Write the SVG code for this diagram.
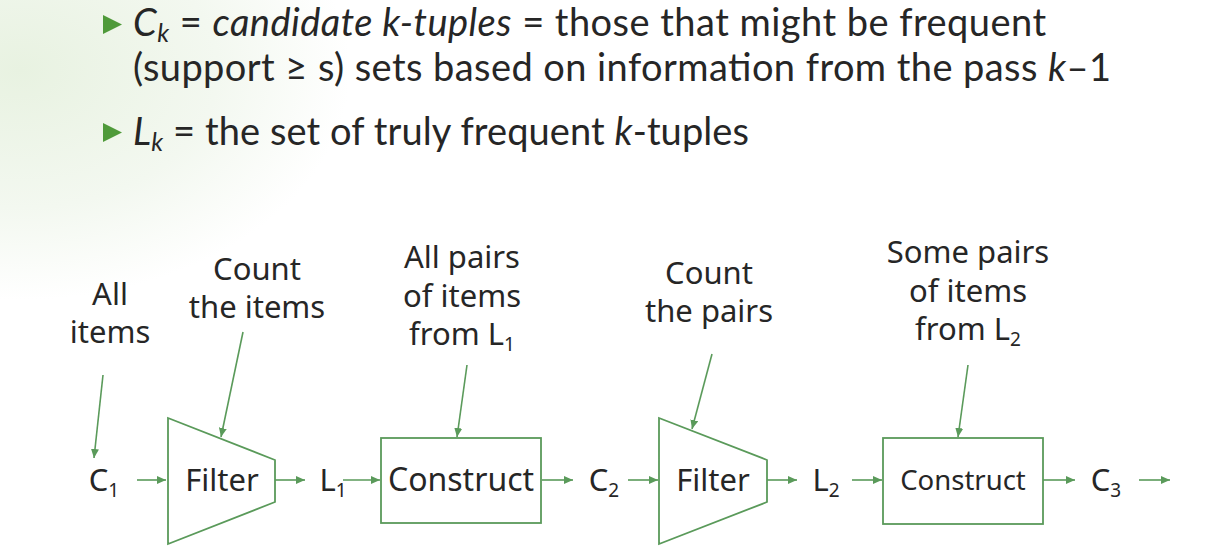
<svg xmlns="http://www.w3.org/2000/svg" width="1207" height="554" viewBox="0 0 1207 554">
<defs>
<radialGradient id="bg" cx="0" cy="0" r="1" gradientUnits="userSpaceOnUse" gradientTransform="translate(20 70) scale(330 230)">
<stop offset="0" stop-color="#e8f2e1"/>
<stop offset="0.6" stop-color="#f3f8f0"/>
<stop offset="1" stop-color="#ffffff"/>
</radialGradient>
<marker id="ah" viewBox="0 0 10 10" refX="10" refY="5" markerWidth="9" markerHeight="8" markerUnits="userSpaceOnUse" orient="auto" preserveAspectRatio="none">
<path d="M0,0 L10,5 L0,10 z" fill="#5a9a5a"/>
</marker>
<style>
.t{fill:#262626}
.top{font-family:Lato,"Liberation Sans",sans-serif;font-size:38px}
.d{font-family:"Noto Sans","Liberation Sans",sans-serif;font-size:31px;text-anchor:middle}
.lab{font-family:"Noto Sans","Liberation Sans",sans-serif;font-size:31px;text-anchor:middle}
.sub{font-size:19px}
.ksub{font-size:25px}
.i{font-style:italic}
.shape{fill:none;stroke:#5a9a5a;stroke-width:1.8}
.con line{stroke:#5a9a5a;stroke-width:1.6;marker-end:url(#ah)}
.bul{fill:#4f9a3a}
</style>
</defs>
<rect width="1207" height="554" fill="#ffffff"/>
<rect width="1207" height="554" fill="url(#bg)"/>

<g id="bullets">
<path class="bul" d="M103,15 L122,24.5 L103,34 z"/>
<path class="bul" d="M103,123 L122,132.5 L103,142 z"/>
<text class="t top" x="133" y="36" textLength="913" lengthAdjust="spacing"><tspan class="i">C</tspan><tspan class="i ksub" dy="6">k</tspan><tspan dy="-6"> = </tspan><tspan class="i">candidate k-tuples</tspan><tspan> = those that might be frequent</tspan></text>
<text class="t top" x="133" y="81" textLength="978" lengthAdjust="spacing">(support ≥ s) sets based on information from the pass <tspan class="i">k</tspan>–1</text>
<text class="t top" x="133" y="145" textLength="616" lengthAdjust="spacing"><tspan class="i">L</tspan><tspan class="i ksub" dy="6">k</tspan><tspan dy="-6"> = the set of truly frequent </tspan><tspan class="i">k</tspan>-tuples</text>
</g>

<g id="label-all-items">
<text class="t lab" x="110" y="305">All</text>
<text class="t lab" x="110" y="343">items</text>
</g>
<g id="label-count-items">
<text class="t lab" x="257" y="280">Count</text>
<text class="t lab" x="257" y="318">the items</text>
</g>
<g id="label-all-pairs">
<text class="t lab" x="462" y="268">All pairs</text>
<text class="t lab" x="462" y="307">of items</text>
<text class="t lab" x="462" y="345">from L<tspan class="sub" dy="6">1</tspan></text>
</g>
<g id="label-count-pairs">
<text class="t lab" x="709" y="284">Count</text>
<text class="t lab" x="709" y="322">the pairs</text>
</g>
<g id="label-some-pairs">
<text class="t lab" x="968" y="263">Some pairs</text>
<text class="t lab" x="968" y="302">of items</text>
<text class="t lab" x="968" y="340">from L<tspan class="sub" dy="6">2</tspan></text>
</g>

<g id="C1"><text class="t d" x="104" y="491">C<tspan class="sub" dy="6">1</tspan></text></g>
<g id="filter1">
<path class="shape" d="M168,418 L275,460 L275,502 L168,544 z"/>
<text class="t d" x="222" y="491">Filter</text>
</g>
<g id="L1"><text class="t d" x="333" y="491">L<tspan class="sub" dy="6">1</tspan></text></g>
<g id="construct1">
<rect class="shape" x="381" y="438" width="160" height="85"/>
<text class="t d" x="461" y="491" style="font-size:32px">Construct</text>
</g>
<g id="C2"><text class="t d" x="604" y="491">C<tspan class="sub" dy="6">2</tspan></text></g>
<g id="filter2">
<path class="shape" d="M659,418 L767,460 L767,502 L659,544 z"/>
<text class="t d" x="713" y="491">Filter</text>
</g>
<g id="L2"><text class="t d" x="826" y="491">L<tspan class="sub" dy="6">2</tspan></text></g>
<g id="construct2">
<rect class="shape" x="883" y="438" width="160" height="86"/>
<text class="t d" x="963" y="490" style="font-size:27.5px">Construct</text>
</g>
<g id="C3"><text class="t d" x="1106" y="491">C<tspan class="sub" dy="6">3</tspan></text></g>

<g id="connectors" class="con">
<line x1="103" y1="375" x2="94" y2="458"/>
<line x1="243" y1="332" x2="221" y2="437"/>
<line x1="467" y1="365" x2="457" y2="437"/>
<line x1="712" y1="354" x2="692" y2="429"/>
<line x1="968" y1="365" x2="958" y2="437"/>
<line x1="137" y1="480" x2="166" y2="480"/>
<line x1="275" y1="480" x2="305" y2="480"/>
<line x1="343" y1="480" x2="380" y2="480"/>
<line x1="542" y1="480" x2="573" y2="480"/>
<line x1="628" y1="480" x2="658" y2="480"/>
<line x1="767" y1="480" x2="797" y2="480"/>
<line x1="852" y1="480" x2="882" y2="480"/>
<line x1="1043" y1="480" x2="1075" y2="480"/>
<line x1="1139" y1="480" x2="1170" y2="480"/>
</g>
</svg>
